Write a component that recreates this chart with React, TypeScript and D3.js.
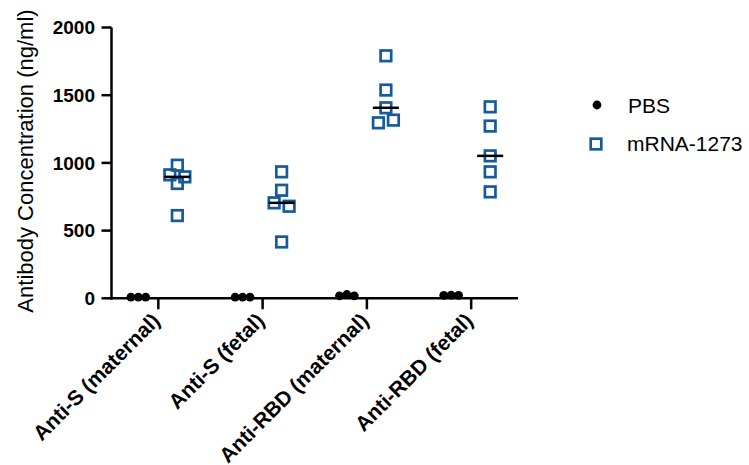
import React from "react";
import * as d3 from "d3";

const categories = ["Anti-S (maternal)", "Anti-S (fetal)", "Anti-RBD (maternal)", "Anti-RBD (fetal)"];
const seriesNames = ["PBS", "mRNA-1273"];
const pbsValues = [
  [8, 8, 8],
  [8, 8, 8],
  [18, 28, 18],
  [22, 24, 22],
];
const mrnaValues = [
  [983, 912, 897, 848, 611],
  [934, 798, 705, 680, 416],
  [1791, 1538, 1407, 1296, 1316],
  [1414, 1272, 1052, 934, 786],
];
const yTicks = [0, 500, 1000, 1500, 2000];

const width = 749;
const height = 465;
const blue = "#155b9b";
const font = "'Liberation Sans', Arial, sans-serif";

// spread points that sit at nearly the same height side by side (like Prism does)
function spread(vals: number[], y: (v: number) => number, tol: number, gap: number) {
  const idx = vals.map((_, i) => i).sort((a, b) => y(vals[a]) - y(vals[b]));
  const offs = new Array(vals.length).fill(0);
  let cluster: number[] = [];
  const flush = () => {
    const c = cluster.slice().sort((a, b) => a - b);
    c.forEach((i, k) => (offs[i] = (k - (c.length - 1) / 2) * gap));
    cluster = [];
  };
  idx.forEach((i) => {
    if (cluster.length && Math.abs(y(vals[i]) - y(vals[cluster[cluster.length - 1]])) >= tol) flush();
    cluster.push(i);
  });
  flush();
  return offs;
}

export default function App() {
  const x = d3.scalePoint<string>().domain(categories).range([111.5, 518]).padding(0.449);
  const sub = d3.scalePoint<string>().domain(seriesNames).range([-20, 19]);
  const y = d3.scaleLinear().domain([0, 2000]).range([298.3, 27.5]);
  const x0 = 111.5;
  const y0 = y(0);

  return (
    <svg width={width} height={height} style={{ position: "absolute", left: 0, top: 0, background: "#fff" }} fontFamily={font}>
      {/* y axis */}
      <line x1={x0} x2={x0} y1={y(2000)} y2={y0 + 1.2} stroke="#000" strokeWidth={2.5} />
      {yTicks.map((t) => (
        <g key={t}>
          <line x1={x0 - 10} x2={x0} y1={y(t)} y2={y(t)} stroke="#000" strokeWidth={2.5} />
          <text x={95} y={y(t)} dy="0.36em" textAnchor="end" fontWeight="bold" fontSize={19}>
            {t}
          </text>
        </g>
      ))}
      <text transform={`translate(33,161) rotate(-90)`} textAnchor="middle" fontSize={22}>
        Antibody Concentration (ng/ml)
      </text>

      {/* x axis */}
      <line x1={x0 - 1.2} x2={518} y1={y0} y2={y0} stroke="#000" strokeWidth={2.5} />
      {categories.map((c) => (
        <g key={c}>
          <line x1={x(c)!} x2={x(c)!} y1={y0} y2={y0 + 11} stroke="#000" strokeWidth={2.5} />
          <text transform={`translate(${x(c)! + 3},322) rotate(-45)`} textAnchor="end" fontWeight="bold" fontSize={21}>
            {c}
          </text>
        </g>
      ))}

      {/* PBS */}
      {categories.map((c, ci) => {
        const offs = spread(pbsValues[ci], y, 5, 7.4);
        const cx = x(c)! + sub("PBS")!;
        return pbsValues[ci].map((v, i) => (
          <circle key={`p${ci}-${i}`} cx={cx + offs[i]} cy={y(v)} r={4.4} fill="#000" />
        ));
      })}

      {/* mRNA-1273 */}
      {categories.map((c, ci) => {
        const vals = mrnaValues[ci];
        const offs = spread(vals, y, 5, 15);
        const cx = x(c)! + sub("mRNA-1273")!;
        const med = d3.median(vals)!;
        return (
          <g key={`m${ci}`}>
            {vals.map((v, i) => (
              <rect
                key={i}
                x={cx + offs[i] - 5.3}
                y={y(v) - 5.3}
                width={10.6}
                height={10.6}
                fill="none"
                stroke={blue}
                strokeWidth={2.7}
              />
            ))}
            <line x1={cx - 13} x2={cx + 13} y1={y(med)} y2={y(med)} stroke="#000" strokeWidth={2.5} />
          </g>
        );
      })}

      {/* legend */}
      <circle cx={597} cy={105} r={4.4} fill="#000" />
      <text x={628} y={113} fontSize={21}>PBS</text>
      <rect x={596 - 5.3} y={144 - 5.3} width={10.6} height={10.6} fill="none" stroke={blue} strokeWidth={2.7} />
      <text x={627} y={151} fontSize={21}>mRNA-1273</text>
    </svg>
  );
}
